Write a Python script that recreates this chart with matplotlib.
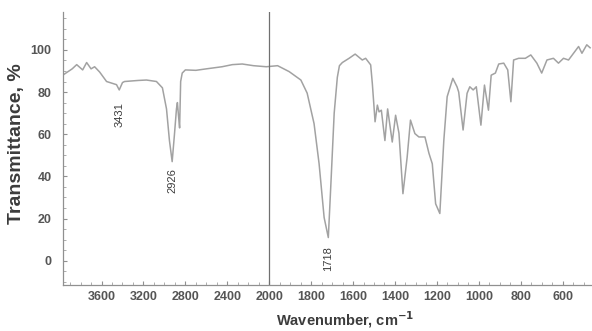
import numpy as np
import matplotlib
matplotlib.use('Agg')
import matplotlib.pyplot as plt
from matplotlib.ticker import FixedLocator

# spectrum (wavenumber, cm-1 / transmittance, %)
wavenumber = [3970, 3880, 3837, 3780, 3742, 3700, 3666, 3618, 3552, 3457,
              3431, 3400, 3380, 3250, 3171, 3076, 3019, 2980, 2952, 2926,
              2904, 2885, 2876, 2866, 2855, 2845, 2830, 2800, 2700, 2600,
              2450, 2352, 2257, 2150, 2028, 1960, 1905, 1849, 1819, 1786,
              1762, 1738, 1718, 1705, 1690, 1675, 1665, 1651, 1619, 1590,
              1556, 1540, 1516, 1508, 1500, 1495, 1484, 1476, 1465, 1448,
              1435, 1413, 1397, 1381, 1362, 1342, 1326, 1305, 1286, 1257,
              1238, 1222, 1206, 1186, 1167, 1151, 1124, 1104, 1096, 1075,
              1056, 1043, 1027, 1012, 990, 973, 954, 941, 921, 905,
              881, 862, 847, 834, 810, 778, 752, 723, 700, 675,
              644, 620, 596, 572, 548, 524, 508, 485, 469]
transmittance = [88, 91, 93, 90.5, 94, 91, 92, 89.5, 85, 83.5,
                 81, 84.5, 85, 85.5, 85.7, 85, 82, 72, 57, 47,
                 60, 72, 75, 69, 63, 85, 89, 90.5, 90.3, 91,
                 92, 93, 93.3, 92.5, 92, 92.5, 89.7, 85.7, 79.5, 65,
                 46, 20.5, 11, 38, 70, 87, 92.5, 94, 96, 98,
                 95.2, 96, 92.9, 84, 73, 65.9, 73.8, 70.6, 71.4, 57,
                 72, 56.3, 69, 60.5, 31.8, 49, 66.7, 60.3, 58.7, 58.7,
                 51, 46, 27, 22.4, 57, 77.8, 86.5, 82.5, 80, 62,
                 79.4, 82.5, 81, 82.5, 64.3, 83.3, 71.4, 88, 89, 93.3,
                 93.7, 90.5, 75.4, 95.2, 96, 96, 97.6, 93.7, 89, 95.2,
                 96, 93.7, 96, 95.2, 98.4, 101.6, 98.4, 102.4, 101]

# labelled peaks
peak_wn = [3431, 2926, 1718]
peak_label = ['3431', '2926', '1718']
peak_text_y = [75, 44, 7]

x_ticks = [3600, 3200, 2800, 2400, 2000, 1800, 1600, 1400, 1200, 1000, 800, 600]
y_ticks = [0, 20, 40, 60, 80, 100]


# scale is halved above 2000 cm-1
def fwd(x):
    x = np.asarray(x, float)
    return np.where(x > 2000, 2000 + (x - 2000) / 2.0, x)


def inv(u):
    u = np.asarray(u, float)
    return np.where(u > 2000, 2000 + (u - 2000) * 2.0, u)


plt.rcParams['font.family'] = ['Liberation Sans', 'DejaVu Sans']
txt = '#3c3c3c'

fig = plt.figure(figsize=(5.92, 3.31), dpi=100)
ax = fig.add_axes([0.106, 0.139, 0.894, 0.825])
ax.set_xscale('function', functions=(fwd, inv))

ax.plot(wavenumber, transmittance, color='#a2a2a2', lw=1.1)
ax.axvline(2000, color='#707070', lw=0.9)

for w, lab, ty in zip(peak_wn, peak_label, peak_text_y):
    ax.text(w, ty, lab, rotation=90, ha='center', va='top', fontsize=8, color=txt)

ax.set_xlim(3970, 460)
ax.set_ylim(-11.5, 118)

ax.xaxis.set_major_locator(FixedLocator(x_ticks))
minor_x = list(range(3900, 2000, -100)) + list(range(1950, 450, -50))
ax.xaxis.set_minor_locator(FixedLocator(minor_x))
ax.set_yticks(y_ticks)
ax.yaxis.set_minor_locator(FixedLocator(list(range(-10, 120, 5))))

for s in ['top', 'right']:
    ax.spines[s].set_visible(False)
for s in ['left', 'bottom']:
    ax.spines[s].set_color('#909090')
    ax.spines[s].set_linewidth(0.9)

ax.tick_params(axis='both', which='major', direction='in', length=3, color='#909090',
               labelsize=9, labelcolor='#555555')
ax.tick_params(axis='both', which='minor', direction='in', length=2, color='#a0a0a0')
ax.tick_params(axis='x', pad=4)
ax.tick_params(axis='y', pad=8)
for lab in ax.get_xticklabels() + ax.get_yticklabels():
    lab.set_fontweight('bold')

ax.set_ylabel('Transmittance, %', fontsize=14, fontweight='bold', color=txt)
ax.yaxis.set_label_coords(-0.072, 0.516)
ax.set_xlabel('Wavenumber, cm$^{\\mathbf{-1}}$', fontsize=10.5, fontweight='bold', color=txt)
ax.xaxis.set_label_coords(0.533, -0.09)

fig.savefig('out.png', dpi=100)
